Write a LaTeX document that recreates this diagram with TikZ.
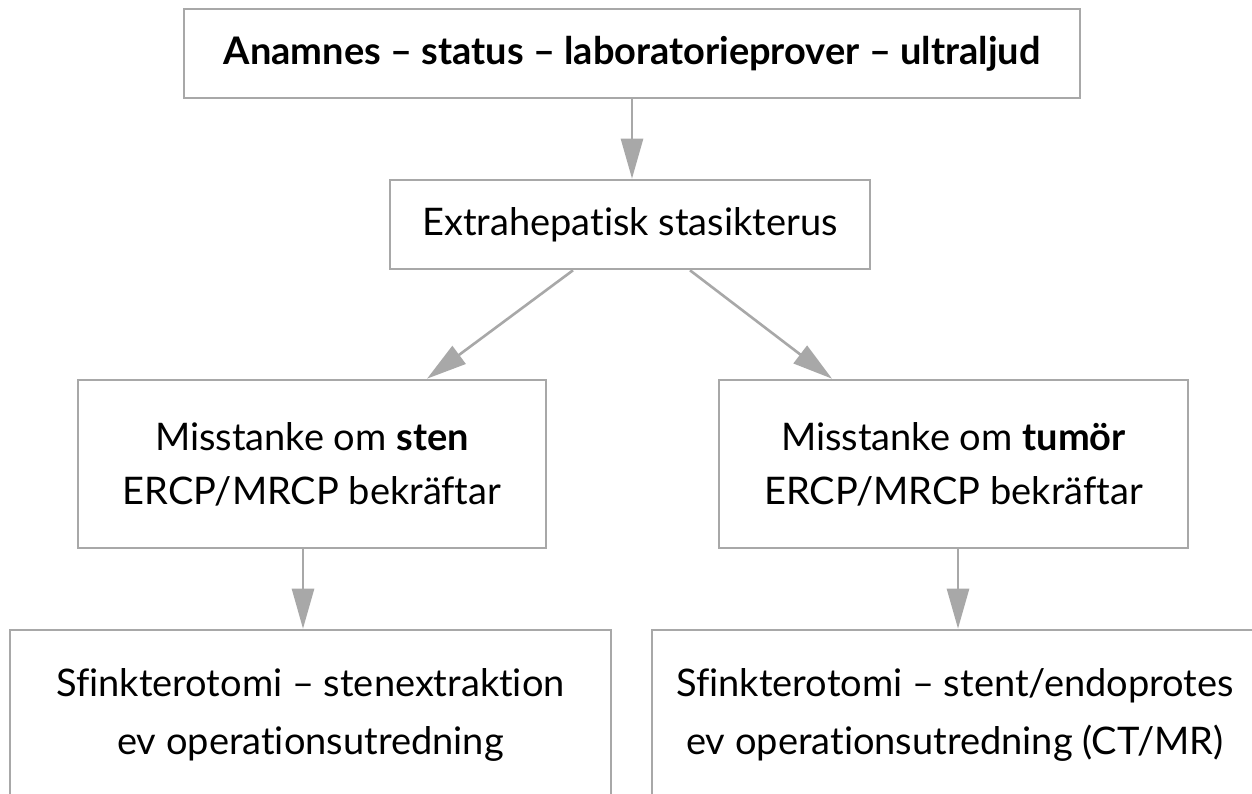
\documentclass[tikz,border=0pt]{standalone}
\usepackage{fontspec}
\setmainfont{Lato}[Ligatures={NoCommon,TeX}]
\usetikzlibrary{arrows.meta,calc}
\definecolor{linegray}{HTML}{A8A8A8}
\begin{document}
\begin{tikzpicture}[x=1pt,y=-1pt,
  box/.style={draw=linegray, line width=2.6pt, inner sep=0pt, align=center,
    font=\fontsize{38}{54}\selectfont},
  txt/.style={font=\fontsize{38}{58}\selectfont},
  conn/.style={draw=linegray, line width=2.6pt, -{Triangle[width=22pt,length=40pt,fill=linegray]}}]
\useasboundingbox (0,0) rectangle (1252,794);
\clip (0,0) rectangle (1252,794);
\fill[white] (0,0) rectangle (1252,794);
\node[box, minimum width=896pt, minimum height=89pt] (b1) at (632,53.5) {\bfseries Anamnes – status – laboratorieprover – ultraljud};
\node[box, minimum width=480pt, minimum height=89pt] (b2) at (630,224.5) {Extrahepatisk stasikterus};
\node[box, minimum width=468pt, minimum height=168pt] (b3) at (312,464) {Misstanke om \textbf{sten}\\ERCP/MRCP bekräftar};
\node[box, minimum width=469pt, minimum height=168pt] (b4) at (953.5,464) {Misstanke om \textbf{tumör}\\ERCP/MRCP bekräftar};
\node[box, txt, minimum width=601pt, minimum height=170pt] (b5) at (310.5,715) {Sfinkterotomi – stenextraktion\\ev operationsutredning};
\node[box, txt, minimum width=606pt, minimum height=170pt] (b6) at (955,715) {Sfinkterotomi – stent/endoprotes\\ev operationsutredning (CT/MR)};
\draw[conn] (b1.south) -- (b1.south |- b2.north);
\draw[conn] ([xshift=-57pt]b2.south) -- ([xshift=115pt]b3.north);
\draw[conn] ([xshift=60pt]b2.south) -- ([xshift=-121.5pt]b4.north);
\draw[conn] ([xshift=-9pt]b3.south) -- ([xshift=-9pt]b3.south |- b5.north);
\draw[conn] ([xshift=4.5pt]b4.south) -- ([xshift=4.5pt]b4.south |- b6.north);
\end{tikzpicture}
\end{document}
